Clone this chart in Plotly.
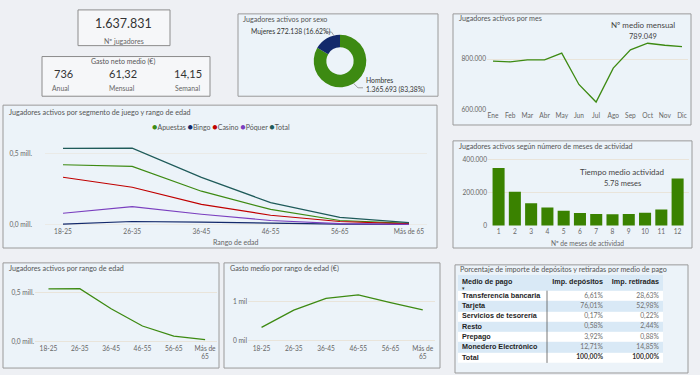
import plotly.graph_objects as go

W, H = 700, 375


def px(x):
    return x / W


def py(y):
    return 1 - y / H


# ---------------- data ----------------
meses = ["Ene", "Feb", "Mar", "Abr", "May", "Jun", "Jul", "Ago", "Sep", "Oct", "Nov", "Dic"]
jugadores_mes = [792000, 789000, 797000, 797000, 824000, 699000, 629000, 764000, 837000, 863000, 855000, 850000]

rangos = ["18-25", "26-35", "36-45", "46-55", "56-65", "Más de 65"]
rangos_wrap = ["18-25", "26-35", "36-45", "46-55", "56-65", "Más de<br>65"]
apuestas = [423000, 411000, 237000, 109000, 31000, 10000]
bingo = [5000, 24000, 20000, 12000, 6000, 3000]
casino = [335000, 265000, 144000, 68000, 24000, 7000]
poquer = [82000, 128000, 75000, 31000, 9000, 3000]
total = [538000, 540000, 334000, 157000, 53000, 16000]

gasto_medio = [340, 785, 1090, 1180, 980, 795]

n_meses = [1, 2, 3, 4, 5, 6, 7, 8, 9, 10, 11, 12]
jugadores_actividad = [350000, 205000, 136000, 109000, 90000, 76000, 70000, 68000, 70000, 78000, 98000, 285000]

sexo = ["Hombres", "Mujeres"]
sexo_valores = [1365693, 272138]

tabla_columnas = ["Medio de pago", "Imp. depósitos", "Imp. retiradas"]
medios_pago = ["Transferencia bancaria", "Tarjeta", "Servicios de tesorería", "Resto",
               "Prepago", "Monedero Electrónico", "Total"]
imp_depositos = ["6,61%", "76,01%", "0,17%", "0,58%", "3,92%", "12,71%", "100,00%"]
imp_retiradas = ["28,63%", "52,98%", "0,22%", "2,44%", "0,88%", "14,85%", "100,00%"]

kpi_jugadores = "1.637.831"
gasto_anual, gasto_mensual, gasto_semanal = "736", "61,32", "14,15"
medio_mensual = "789.049"
tiempo_medio = "5.78 meses"

# ---------------- style ----------------
FONT = "Lato"
TFONT = "Liberation Sans"
GREEN = "#3d8a12"
BAR_GREEN = "#3a8200"
NAVY = "#13296b"
RED = "#c00000"
PURPLE = "#7a3fbf"
TEAL = "#1f5b5a"
PANEL_FILL = "#ecf3f9"
PANEL_LINE = "#9a9a9a"
GRID = "#e9e4da"
BAND = "#d9e9f6"
TICK = dict(size=6.6, color="#666666", family=FONT)

fig = go.Figure()

# monthly line
fig.add_trace(go.Scatter(x=meses, y=jugadores_mes, mode="lines", line=dict(color=GREEN, width=1.3),
                         xaxis="x", yaxis="y", showlegend=False, hoverinfo="skip"))

# segment lines
for name, vals, col in [("Apuestas", apuestas, GREEN), ("Bingo", bingo, NAVY), ("Casino", casino, RED),
                        ("Póquer", poquer, PURPLE), ("Total", total, TEAL)]:
    fig.add_trace(go.Scatter(x=rangos, y=vals, mode="lines", name=name, line=dict(color=col, width=1.2),
                             xaxis="x2", yaxis="y2", showlegend=False, hoverinfo="skip"))

# bars meses actividad
fig.add_trace(go.Bar(x=n_meses, y=jugadores_actividad, marker=dict(color=BAR_GREEN, line=dict(width=0)),
                     xaxis="x3", yaxis="y3", showlegend=False, hoverinfo="skip"))

# total by age
fig.add_trace(go.Scatter(x=rangos_wrap, y=total, mode="lines", line=dict(color=GREEN, width=1.3),
                         xaxis="x4", yaxis="y4", showlegend=False, hoverinfo="skip"))

# gasto medio
fig.add_trace(go.Scatter(x=rangos_wrap, y=gasto_medio, mode="lines", line=dict(color=GREEN, width=1.3),
                         xaxis="x5", yaxis="y5", showlegend=False, hoverinfo="skip"))

# donut
DONUT_CX, DONUT_CY, DONUT_D = 340, 61.5, 53
fig.add_trace(go.Pie(labels=sexo, values=sexo_valores, hole=0.52, sort=False, direction="clockwise",
                     rotation=0, marker=dict(colors=[GREEN, NAVY], line=dict(width=0)),
                     textinfo="none", showlegend=False, hoverinfo="skip",
                     domain=dict(x=[px(DONUT_CX - DONUT_D / 2), px(DONUT_CX + DONUT_D / 2)],
                                 y=[py(DONUT_CY + DONUT_D / 2), py(DONUT_CY - DONUT_D / 2)])))

# ---------------- table (heatmap bands + text) ----------------
n = len(medios_pago)
HEADER_ROWS = 1.54  # header height in body-row units
row_edges = [-HEADER_ROWS] + list(range(0, n + 1))
band_z = [[1]] + [[i % 2] for i in range(n)]
TW = 205
fig.add_trace(go.Heatmap(x=[0, TW], y=row_edges, z=band_z, zmin=0, zmax=1,
                         colorscale=[[0, "#ffffff"], [1, BAND]], showscale=False, hoverinfo="skip",
                         xaxis="x6", yaxis="y6"))
row_y = [i + 0.5 for i in range(n)]
name_text = ["<b>%s</b>" % m for m in medios_pago]
dep_text = [("<b>%s</b>" % v) if m == "Total" else v for m, v in zip(medios_pago, imp_depositos)]
ret_text = [("<b>%s</b>" % v) if m == "Total" else v for m, v in zip(medios_pago, imp_retiradas)]
dep_col = ["#333333" if m == "Total" else "#707070" for m in medios_pago]
COL_X = [4, 145, 201]
fig.add_trace(go.Scatter(x=[COL_X[0]] * n, y=row_y, text=name_text, mode="text", textposition="middle right",
                         textfont=dict(family=TFONT, size=7.2, color="#1e1e1e"),
                         xaxis="x6", yaxis="y6", showlegend=False, hoverinfo="skip"))
fig.add_trace(go.Scatter(x=[COL_X[1]] * n, y=row_y, text=dep_text, mode="text", textposition="middle left",
                         textfont=dict(family=FONT, size=6.8, color=dep_col),
                         xaxis="x6", yaxis="y6", showlegend=False, hoverinfo="skip"))
fig.add_trace(go.Scatter(x=[COL_X[2]] * n, y=row_y, text=ret_text, mode="text", textposition="middle left",
                         textfont=dict(family=FONT, size=6.8, color=dep_col),
                         xaxis="x6", yaxis="y6", showlegend=False, hoverinfo="skip"))
fig.add_trace(go.Scatter(x=COL_X, y=[-0.85] * 3, text=["<b>%s</b>" % c for c in tabla_columnas], mode="text",
                         textposition=["middle right", "middle left", "middle left"],
                         textfont=dict(family=TFONT, size=7.2, color="#1e1e1e"),
                         xaxis="x6", yaxis="y6", showlegend=False, hoverinfo="skip"))

shapes = []


def rect(x0, y0, x1, y1, fill=PANEL_FILL, line=PANEL_LINE):
    shapes.append(dict(type="rect", xref="paper", yref="paper", x0=px(x0), x1=px(x1), y0=py(y1), y1=py(y0),
                       fillcolor=fill, line=dict(color=line, width=1), layer="below"))


# panels
rect(78, 10, 170, 46, fill="rgba(255,255,255,0.45)", line="#8c8c8c")
rect(42, 57, 210, 97, fill="rgba(255,255,255,0.45)", line="#8c8c8c")
rect(238, 14, 438, 97)
rect(453, 14, 691, 126)
rect(3, 106, 437, 250)
rect(453, 142, 692, 250)
rect(3, 265, 219, 371)
rect(224, 265, 440, 371)
rect(455, 267, 688, 376)

# donut leader lines
shapes.append(dict(type="path", xref="paper", yref="paper",
                   path="M %f,%f L %f,%f L %f,%f" % (px(325), py(32.3), px(331.5), py(32.3), px(334), py(36)),
                   line=dict(color="#888888", width=0.8)))
shapes.append(dict(type="path", xref="paper", yref="paper",
                   path="M %f,%f L %f,%f L %f,%f" % (px(353.5), py(84), px(358), py(88.5), px(363), py(88.5)),
                   line=dict(color="#888888", width=0.8)))
# table column separator
shapes.append(dict(type="line", xref="x6", yref="y6", x0=89, x1=89, y0=0, y1=n,
                   line=dict(color="#555555", width=0.8)))

ann = []


def text(x, y, s, size=7.2, color="#555555", anchor="left", family=FONT):
    ann.append(dict(x=px(x), y=py(y), xref="paper", yref="paper", text=s, showarrow=False,
                    xanchor=anchor, yanchor="middle", font=dict(size=size, color=color, family=family)))


# KPIs
text(124, 24, kpi_jugadores, size=12.5, color="#333333", anchor="center")
text(124, 41, "Nº jugadores", size=7, color="#666666", anchor="center")
text(123, 62, "Gasto neto medio (€)", size=7, color="#555555", anchor="center")
text(63, 74, gasto_anual, size=11, color="#333333", anchor="center")
text(123, 74, gasto_mensual, size=11, color="#333333", anchor="center")
text(188, 74, gasto_semanal, size=11, color="#333333", anchor="center")
text(61, 89, "Anual", size=6.8, color="#666666", anchor="center")
text(122, 89, "Mensual", size=6.8, color="#666666", anchor="center")
text(187, 89, "Semanal", size=6.8, color="#666666", anchor="center")

# titles
text(241, 20, "Jugadores activos por sexo")
text(457, 19, "Jugadores activos por mes")
text(7, 113, "Jugadores activos por segmento de juego y rango de edad")
text(457, 148, "Jugadores activos según número de meses de actividad")
text(7, 271, "Jugadores activos por rango de edad")
text(228, 271, "Gasto medio por rango de edad (€)")
text(458, 272, "Porcentaje de importe de depósitos y retiradas por medio de pago")

# donut labels
text(249, 32, "Mujeres 272.138 (16.62%)", size=6.8, color="#333333")
ann.append(dict(x=px(364), y=py(86), xref="paper", yref="paper", text="Hombres<br>1.365.693 (83,38%)",
                showarrow=False, xanchor="left", yanchor="middle", align="left",
                font=dict(size=6.8, color="#333333", family=FONT)))

# monthly annotation
text(643, 25, "Nº medio mensual", size=8, color="#444444", anchor="center")
text(643, 37, medio_mensual, size=7.5, color="#444444", anchor="center")

# activity annotation
text(622, 173, "Tiempo medio actividad", size=8, color="#444444", anchor="center")
text(622, 185, tiempo_medio, size=7.5, color="#444444", anchor="center")

# table header sort arrow
text(463.5, 290.5, "▾", size=5, color="#333333", anchor="center")

# legend for segment chart
leg = " ".join("<span style='color:%s;font-size:9px'>●</span>%s" % (c, nme) for nme, c in
               [("Apuestas", GREEN), ("Bingo", NAVY), ("Casino", RED), ("Póquer", PURPLE), ("Total", TEAL)])
text(221, 128, leg, size=7, color="#555555", anchor="center")

# axis titles
text(236, 244, "Rango de edad", size=7, color="#666666", anchor="center")
text(587, 245, "Nº de meses de actividad", size=6.6, color="#666666", anchor="center")


def xax(domain, rng, anchor, **kw):
    d = dict(domain=[px(domain[0]), px(domain[1])], range=rng, anchor=anchor, showgrid=False,
             zeroline=False, showline=False, ticks="", tickfont=TICK, fixedrange=True)
    d.update(kw)
    return d


def yax(domain, rng, anchor, **kw):
    d = dict(domain=[py(domain[1]), py(domain[0])], range=rng, anchor=anchor, showgrid=True,
             gridcolor=GRID, gridwidth=1, zeroline=False, showline=False, ticks="", tickfont=TICK,
             fixedrange=True)
    d.update(kw)
    return d


hidden = dict(showgrid=False, showticklabels=False, zeroline=False, showline=False, ticks="")

fig.update_layout(
    width=W, height=H, margin=dict(l=0, r=0, t=0, b=0),
    paper_bgcolor="#eef0f4", plot_bgcolor="rgba(0,0,0,0)",
    separators=",.", font=dict(family=FONT),
    shapes=shapes, annotations=ann, showlegend=False, bargap=0.26,
    xaxis=xax((487, 688), [-0.35, 11.35], "y", type="category"),
    yaxis=yax((35, 111), [597000, 897000], "x", tickvals=[600000, 800000], tickformat=",.0f"),
    xaxis2=xax((45, 427), [-0.26, 5.26], "y2", type="category"),
    yaxis2=yax((140, 228), [-9000, 605000], "x2", tickvals=[0, 500000], ticktext=["0,0 mill.", "0,5 mill."],
               ticklabelstandoff=12, gridcolor="rgba(233,228,218,0.6)"),
    xaxis3=xax((488, 689), [0.35, 12.7], "y3", tickvals=n_meses),
    yaxis3=yax((155, 228), [-4000, 436000], "x3", tickvals=[0, 200000, 400000], tickformat=",.0f"),
    xaxis4=xax((35, 217), [-0.43, 5.38], "y4", type="category"),
    yaxis4=yax((278, 346), [-20000, 673000], "x4", tickvals=[0, 500000], ticktext=["0,0 mill.", "0,5 mill."]),
    xaxis5=xax((248, 435), [-0.42, 5.38], "y5", type="category"),
    yaxis5=yax((278, 346), [-70, 1674], "x5", tickvals=[0, 1000], ticktext=["0 mil", "1 mil"]),
    xaxis6=dict(domain=[px(458), px(458 + TW)], range=[0, TW], anchor="y6", fixedrange=True, **hidden),
    yaxis6=dict(domain=[py(277 + (n + HEADER_ROWS) * 10.4), py(277)], range=[n, -HEADER_ROWS], anchor="x6",
                fixedrange=True, **hidden),
)

fig.write_html("out.html", config={"displayModeBar": False},
               post_script="document.body.style.margin='0';document.body.style.overflow='hidden';")
